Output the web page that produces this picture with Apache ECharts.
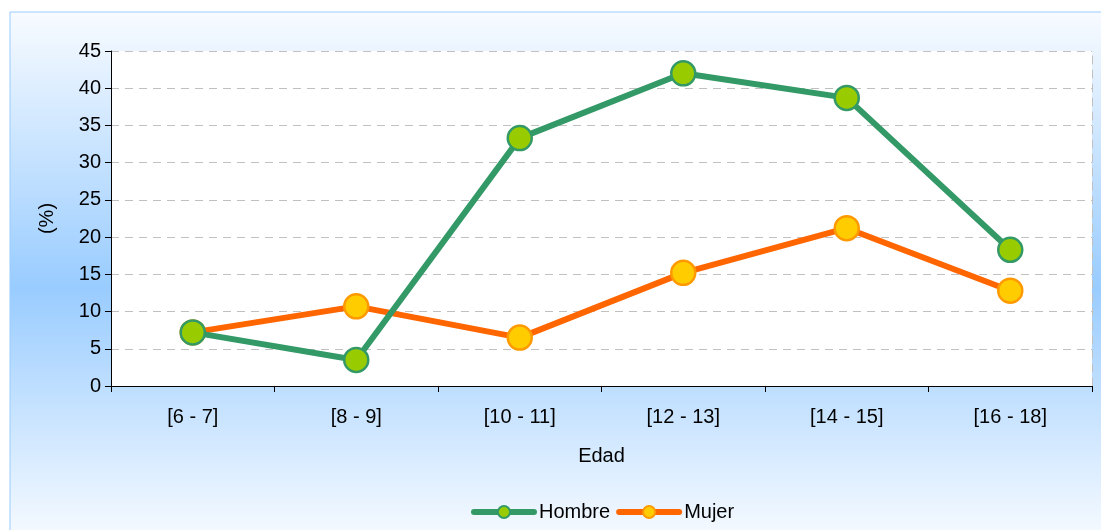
<!DOCTYPE html>
<html>
<head>
<meta charset="utf-8">
<script src="https://cdn.jsdelivr.net/npm/echarts@6/dist/echarts.min.js"></script>
<style>
  html, body { margin: 0; padding: 0; background: #fff; }
  #chart { width: 1101px; height: 530px; }
</style>
</head>
<body>
<div id="chart"></div>
<script>
const edades = ['[6 - 7]', '[8 - 9]', '[10 - 11]', '[12 - 13]', '[14 - 15]', '[16 - 18]']
const hombre = [7.2, 3.5, 33.3, 42.0, 38.7, 18.3]
const mujer = [7.2, 10.7, 6.5, 15.2, 21.2, 12.8]

let myChart = echarts.init(document.getElementById('chart'))
const font = 'Liberation Sans, Arial, sans-serif'
const fs = 20

let option = {
    animation: false,
    textStyle: { fontFamily: font },
    graphic: [{
        type: 'rect',
        shape: { x: 10, y: 12, width: 1100, height: 530 },
        z: -10,
        style: {
            stroke: '#99ccff',
            lineWidth: 1,
            fill: new echarts.graphic.LinearGradient(0, 0, 0, 1, [
                { offset: 0, color: '#f8fbff' },
                { offset: 0.52, color: '#99ccff' },
                { offset: 1, color: '#f8fbff' }
            ])
        }
    }],
    grid: { left: 111, right: 9, top: 51, bottom: 144, show: true, backgroundColor: '#fff', borderWidth: 0 },
    legend: {
        bottom: 3,
        left: 466,
        itemWidth: 60,
        itemHeight: 15,
        itemGap: 6,
        textStyle: { fontSize: fs, color: '#000', fontFamily: font },
        data: [
            { name: 'Hombre', lineStyle: { width: 6, color: '#339966', cap: 'round' } },
            { name: 'Mujer', lineStyle: { width: 6, color: '#ff6600', cap: 'round' } }
        ]
    },
    xAxis: {
        type: 'category',
        data: edades,
        boundaryGap: true,
        name: 'Edad',
        nameLocation: 'middle',
        nameGap: 60,
        nameTextStyle: { fontSize: fs, color: '#000' },
        axisLine: { lineStyle: { color: '#000', width: 1 } },
        axisTick: { show: true, length: 6, lineStyle: { color: '#000' } },
        axisLabel: { fontSize: fs, color: '#000', margin: 21 },
        splitLine: { show: false }
    },
    yAxis: [{
        type: 'value',
        min: 0,
        max: 45,
        interval: 5,
        name: '(%)',
        nameLocation: 'middle',
        nameGap: 54,
        nameTextStyle: { fontSize: fs, color: '#000' },
        axisLine: { show: true, lineStyle: { color: '#000', width: 1 } },
        axisTick: { show: true, length: 6, lineStyle: { color: '#000' } },
        axisLabel: { fontSize: fs, color: '#000', margin: 10 },
        splitLine: { show: true, lineStyle: { color: '#c0c0c0', type: [8, 6], width: 1 } }
    }, {
        // borde derecho punteado
        type: 'value',
        position: 'right',
        min: 0,
        max: 45,
        interval: 5,
        axisLine: { show: true, lineStyle: { color: '#c0c0c0', type: [8, 6], width: 1 } },
        axisTick: { show: false },
        axisLabel: { show: false },
        splitLine: { show: false }
    }],
    series: [{
        name: 'Hombre',
        type: 'line',
        data: hombre,
        symbol: 'circle',
        symbolSize: 24,
        z: 3,
        lineStyle: { color: '#339966', width: 6 },
        itemStyle: { color: '#99cc00', borderColor: '#339966', borderWidth: 2.5 }
    }, {
        name: 'Mujer',
        type: 'line',
        data: mujer,
        symbol: 'circle',
        symbolSize: 24,
        z: 2,
        lineStyle: { color: '#ff6600', width: 6 },
        itemStyle: { color: '#ffcc00', borderColor: '#ff9900', borderWidth: 2.5 }
    }]
}
myChart.setOption(option)
</script>
</body>
</html>
